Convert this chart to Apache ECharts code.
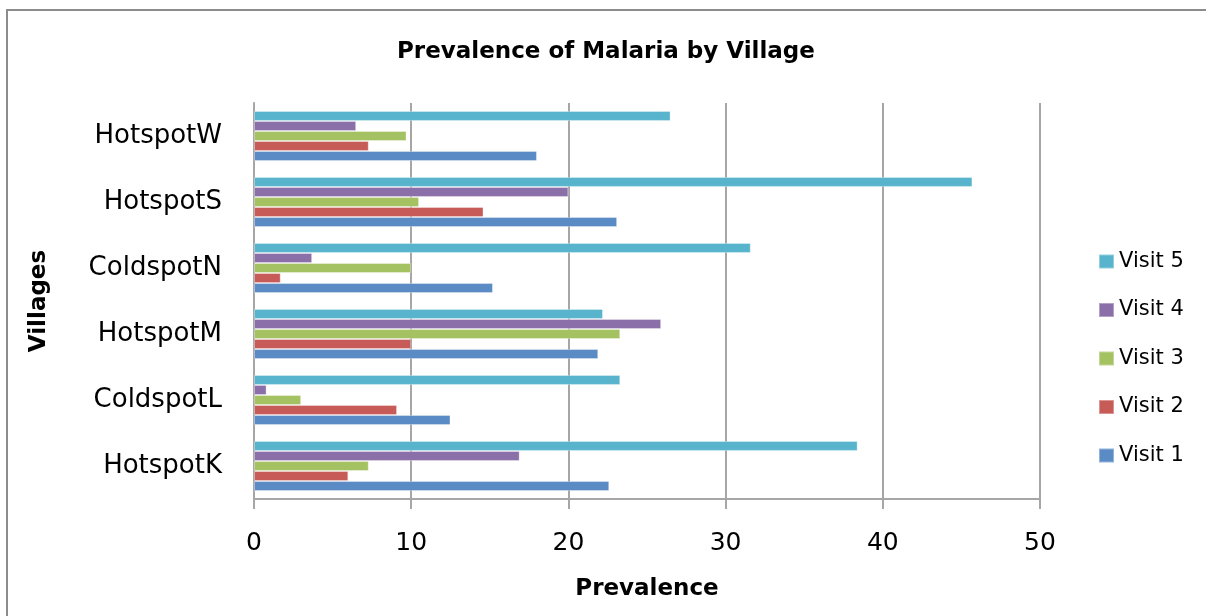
<!DOCTYPE html>
<html>
<head>
<meta charset="utf-8">
<script src="https://cdn.jsdelivr.net/npm/echarts@6/dist/echarts.min.js"></script>
<style>
html,body{margin:0;padding:0;background:#fff;}
#chart{width:1206px;height:616px;}
</style>
</head>
<body>
<div id="chart"></div>
<script>
const categories = ['HotspotK', 'ColdspotL', 'HotspotM', 'ColdspotN', 'HotspotS', 'HotspotW'];
const visit1 = [22.6, 12.5, 21.9, 15.2, 23.1, 18.0];
const visit2 = [6.0, 9.1, 10.0, 1.7, 14.6, 7.3];
const visit3 = [7.3, 3.0, 23.3, 10.0, 10.5, 9.7];
const visit4 = [16.9, 0.8, 25.9, 3.7, 20.0, 6.5];
const visit5 = [38.4, 23.3, 22.2, 31.6, 45.7, 26.5];
const seriesNames = ['Visit 1', 'Visit 2', 'Visit 3', 'Visit 4', 'Visit 5'];
const legendOrder = ['Visit 5', 'Visit 4', 'Visit 3', 'Visit 2', 'Visit 1'];
const xTicks = [0, 10, 20, 30, 40, 50];

const colors = ['#5B8BC5', '#C75B57', '#A5C263', '#8B6FA8', '#57B4CC'];
const values = [visit1, visit2, visit3, visit4, visit5];
const FONT = 'DejaVu Sans';

// ECharts stacks the first series at the top of a horizontal band,
// so series are given in reverse order (Visit 5 first) to put Visit 1 at the bottom.
const order = [4, 3, 2, 1, 0];

const chart = echarts.init(document.getElementById('chart'), null, {renderer: 'canvas'});
chart.setOption({
  animation: false,
  backgroundColor: '#ffffff',
  graphic: [{
    type: 'rect',
    shape: {x: 7, y: 10, width: 1220, height: 640},
    style: {fill: 'none', stroke: '#8C8C8C', lineWidth: 2},
    silent: true, z: -1
  }],
  title: {
    text: 'Prevalence of Malaria by Village',
    left: 392, top: 36,
    textStyle: {fontFamily: FONT, fontSize: 23, fontWeight: 'bold', color: '#000'}
  },
  legend: {
    data: legendOrder,
    orient: 'vertical',
    left: 1093, top: 246,
    itemWidth: 15, itemHeight: 14,
    itemGap: 27.5,
    icon: 'rect',
    textStyle: {fontFamily: FONT, fontSize: 21, color: '#000', lineHeight: 21}
  },
  grid: {left: 254, top: 103, right: 166, bottom: 117, containLabel: false},
  xAxis: {
    type: 'value',
    min: 0, max: 50, interval: 10,
    name: 'Prevalence',
    nameLocation: 'middle',
    nameGap: 79,
    nameTextStyle: {fontFamily: FONT, fontSize: 23, fontWeight: 'bold', color: '#000'},
    axisLine: {show: true, lineStyle: {color: '#A6A6A6', width: 2}},
    axisTick: {show: true, length: 10, lineStyle: {color: '#A6A6A6', width: 2}},
    axisLabel: {fontFamily: FONT, fontSize: 25, color: '#000', margin: 32,
      formatter: v => xTicks.includes(v) ? String(v) : ''},
    splitLine: {show: true, lineStyle: {color: '#A6A6A6', width: 2}}
  },
  yAxis: {
    type: 'category',
    data: categories,
    name: 'Villages',
    nameLocation: 'middle',
    nameGap: 203,
    nameRotate: 90,
    nameTextStyle: {fontFamily: FONT, fontSize: 23, fontWeight: 'bold', color: '#000'},
    axisLine: {show: true, lineStyle: {color: '#A6A6A6', width: 2}},
    axisTick: {show: false},
    axisLabel: {fontFamily: FONT, fontSize: 26, color: '#000', margin: 32},
    splitLine: {show: false}
  },
  series: order.map(i => ({
    name: seriesNames[i],
    type: 'bar',
    data: values[i],
    barGap: '0%',
    barCategoryGap: '24%',
    itemStyle: {color: colors[i], borderColor: 'rgba(255,255,255,0.35)', borderWidth: 1}
  }))
});
</script>
</body>
</html>
